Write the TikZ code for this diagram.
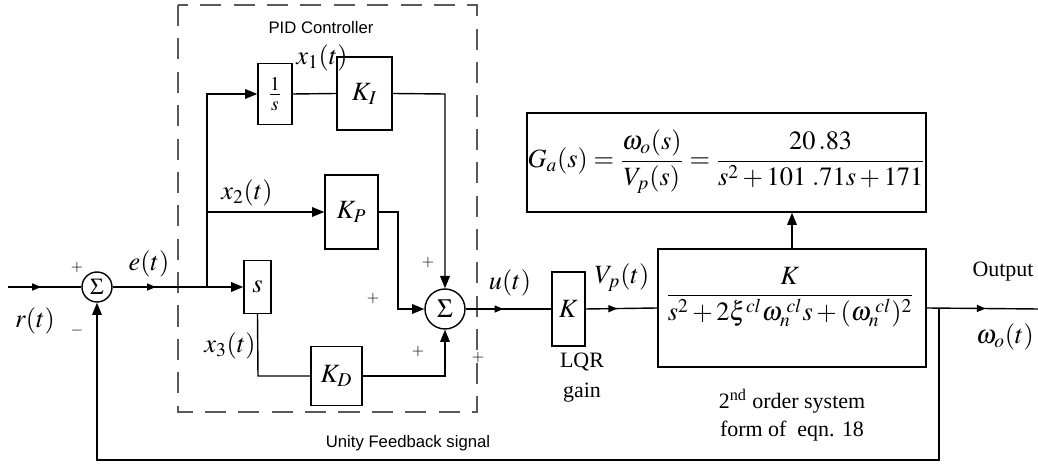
\documentclass[tikz,border=0pt]{standalone}
\usepackage{mathptmx}
\usepackage{fontspec}
\setmainfont{Liberation Serif}
\newfontfamily\arialfont{Liberation Sans}
\usetikzlibrary{arrows.meta,decorations.markings}
\begin{document}
\begin{tikzpicture}[x=0.02cm,y=-0.02cm,
  line width=0.8pt,
  blk/.style={draw,inner sep=0pt,font=\fontsize{15}{17}\selectfont},
  sumnode/.style={draw,circle,inner sep=0pt,font=\fontsize{13}{14}\selectfont},
  lbl/.style={font=\fontsize{15}{17}\selectfont,inner sep=0pt},
  sgn/.style={font=\fontsize{9}{10}\selectfont,inner sep=0pt},
  txt/.style={font=\fontsize{12.5}{14}\selectfont,inner sep=0pt,align=center},
  sans/.style={font=\arialfont\fontsize{9.5}{11}\selectfont,inner sep=0pt},
  eqn/.style={inner sep=0pt,font=\fontsize{15}{17}\selectfont},
  bigarr/.style={-{Triangle[length=7pt,width=5.5pt]}},
  midarrow/.style={postaction={decorate},decoration={markings,
     mark=at position #1 with {\arrow{Triangle[length=5pt,width=4pt]}}}}
]
\useasboundingbox (0,0) rectangle (1038,475);

% PID dashed box
\draw[gray!70!black,line width=1pt,dash pattern=on 12pt off 7pt] (178,5) rectangle (477,412);
\node[sans] (pidlbl) at (321,28) {PID Controller};

% summing junctions
\node[sumnode,minimum size=0.6cm] (s1) at (97,287) {$\Sigma$};
\node[sumnode,minimum size=0.8cm,font=\fontsize{15}{16}\selectfont] (s2) at (445,309) {$\Sigma$};

% blocks
\node[blk,minimum width=0.68cm,minimum height=1.22cm] (inv) at (275,94) {$\frac{1}{s}$};
\node[blk,minimum width=1.1cm,minimum height=1.46cm] (KI) at (364.5,93.5) {$K_I$};
\node[blk,minimum width=1.06cm,minimum height=1.48cm] (KP) at (351.5,212) {$K_P$};
\node[blk,minimum width=0.54cm,minimum height=1.06cm] (sD) at (257.5,287) {$s$};
\node[blk,minimum width=1.02cm,minimum height=1.18cm] (KD) at (336.5,376) {$K_D$};
\node[blk,minimum width=0.66cm,minimum height=1.48cm] (Kq) at (568.5,309) {$K$};
\node[blk,minimum width=5.36cm,minimum height=2.36cm] (plant) at (792,308) {};
\node[eqn] (pf) at (790,297)
  {$\displaystyle\frac{K}{s^2+2\xi^{cl}\omega_n^{\;cl}s+(\omega_n^{\;cl})^2}$};
\node[blk,minimum width=7.98cm,minimum height=1.98cm] (G) at (726.5,162.5) {};
\node[eqn] (gf) at (726.5,162)
  {$\displaystyle G_a(s)=\frac{\omega_o(s)}{V_p(s)}=\frac{20\,.83}{s^2+101\;.71s+171}$};

% coordinates
\coordinate (in) at (8,287);
\coordinate (br) at (207,287);
\coordinate (kic) at (445,94);
\coordinate (kpc) at (398,212);
\coordinate (sdc) at (258,376);
\coordinate (kdc) at (445,376);
\coordinate (fb) at (939,309);
\coordinate (fbb) at (939,460);
\coordinate (out) at (1038,309);

% connectors
\draw[midarrow=0.45] (in) -- (s1.west);
\draw[bigarr,midarrow=0.33] (s1.east) -- (sD.west);
\draw[bigarr] (br) |- (inv.west);
\draw[bigarr] (br) |- (KP.west);
\draw (inv.east) -- (KI.west);
\draw[bigarr] (KI.east) -- (kic) -- (s2.north);
\draw[bigarr] (KP.east) -- (kpc) |- (s2.west);
\draw (sD.south) -- (sdc) -- (KD.west);
\draw[bigarr] (KD.east) -- (kdc) -- (s2.south);
\draw[midarrow=0.44] (s2.east) -- (Kq.west);
\draw[midarrow=0.44] (Kq.east) -- (plant.west);
\draw[bigarr] (plant.north) -- (plant.north |- G.south);
\draw[midarrow=0.53] (plant.east) -- (out);
\draw[bigarr] (fb) -- (fbb) -| (s1.south);

% labels
\node[sgn] (p1) at (77,268) {$+$};
\node[sgn] (m1) at (77,331) {$-$};
\node[lbl] (rl) at (35,321) {$r(t)$};
\node[lbl] (el) at (149,264) {$e(t)$};
\node[lbl] (x1l) at (322,58) {$x_1(t)$};
\node[lbl] (x2l) at (247,193) {$x_2(t)$};
\node[lbl] (x3l) at (230,346) {$x_3(t)$};
\node[sgn] (p2) at (428,263) {$+$};
\node[sgn] (p3) at (373,299) {$+$};
\node[sgn] (p4) at (418,352) {$+$};
\node[sgn] (p5) at (478,358) {$+$};
\node[lbl] (ul) at (510,283) {$u(t)$};
\node[lbl] (vl) at (622,278) {$V_p(t)$};
\node[txt] (lqr) at (582,378) {LQR\\[3pt]gain};
\node[txt] (outl) at (1003,272) {Output};
\node[lbl] (wl) at (1005,337) {$\omega_o(t)$};
\node[txt] (ord) at (792,415) {2\textsuperscript{nd} order system\\[2pt]form of\ \ eqn. 18};
\node[sans] (fbl) at (408,443) {Unity Feedback signal};
\end{tikzpicture}
\end{document}
